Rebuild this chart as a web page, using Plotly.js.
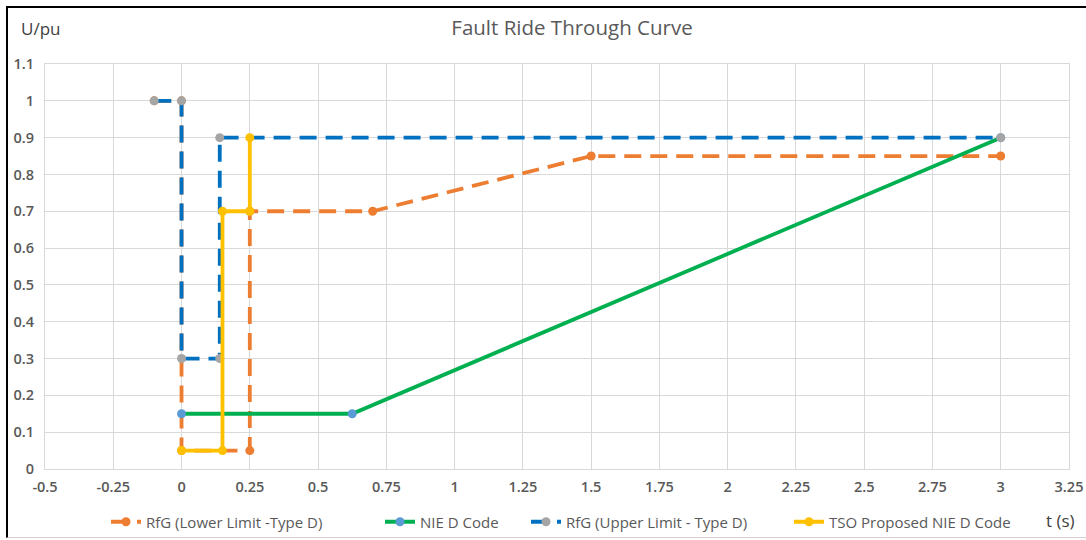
<!DOCTYPE html>
<html>
<head>
<meta charset="utf-8">
<script src="https://cdn.plot.ly/plotly-3.0.1.min.js"></script>
<style>
  html, body { margin: 0; padding: 0; background: #ffffff; }
  #wrap { position: relative; width: 1086px; height: 540px; overflow: hidden; }
  #chart { position: absolute; left: 0; top: 0; width: 1086px; height: 540px; }
  #frame { position: absolute; left: 6px; top: 6px; width: 1090px; height: 532px;
           border-top: 2px solid #000; border-left: 2px solid #000; border-bottom: 1px solid #d0d0d0;
           pointer-events: none; box-sizing: border-box; }
</style>
</head>
<body>
<div id="wrap">
  <div id="chart"></div>
  <div id="frame"></div>
</div>
<script>
// ---- data ----
const lowerX = [-0.1, 0, 0, 0.25, 0.25, 0.7, 1.5, 3];
const lowerY = [1, 1, 0.05, 0.05, 0.7, 0.7, 0.85, 0.85];

const nieX = [0, 0.625, 3];
const nieY = [0.15, 0.15, 0.9];

const upperX = [-0.1, 0, 0, 0.14, 0.14, 3];
const upperY = [1, 1, 0.3, 0.3, 0.9, 0.9];

const tsoX = [0, 0.15, 0.15, 0.25, 0.25];
const tsoY = [0.05, 0.05, 0.7, 0.7, 0.9];

const seriesNames = ["RfG (Lower Limit -Type D)", "NIE D Code", "RfG (Upper Limit - Type D)", "TSO Proposed NIE D Code"];

const xTickVals = [-0.5, -0.25, 0, 0.25, 0.5, 0.75, 1, 1.25, 1.5, 1.75, 2, 2.25, 2.5, 2.75, 3, 3.25];
const xTickText = ["-0.5", "-0.25", "0", "0.25", "0.5", "0.75", "1", "1.25", "1.5", "1.75", "2", "2.25", "2.5", "2.75", "3", "3.25"];
const yTickVals = [0, 0.1, 0.2, 0.3, 0.4, 0.5, 0.6, 0.7, 0.8, 0.9, 1, 1.1];
const yTickText = ["0", "0.1", "0.2", "0.3", "0.4", "0.5", "0.6", "0.7", "0.8", "0.9", "1", "1.1"];

const chartTitle = "Fault Ride Through Curve";
const yLabel = "U/pu";
const xLabel = "t (s)";

// ---- geometry helpers (plot area in pixels) ----
const PL = 45, PR = 1069, PT = 64, PB = 469;
const px2x = p => (p - PL) / (PR - PL);
const px2y = p => (PB - p) / (PB - PT);

// ---- traces ----
const FONT = "'Open Sans', 'DejaVu Sans', sans-serif";
const DASH = "17px,9px";
const traces = [
  {
    x: lowerX, y: lowerY, name: seriesNames[0], type: "scatter", mode: "lines+markers",
    line: { color: "#ED7D31", width: 3.8, dash: DASH },
    marker: { color: "#ED7D31", size: 9 }, legend: "legend"
  },
  {
    x: nieX, y: nieY, name: seriesNames[1], type: "scatter", mode: "lines+markers",
    line: { color: "#00B050", width: 3.8 },
    marker: { color: "#5B9BD5", size: 9 }, legend: "legend2"
  },
  {
    x: upperX, y: upperY, name: seriesNames[2], type: "scatter", mode: "lines+markers",
    line: { color: "#0070C0", width: 3.8, dash: DASH },
    marker: { color: "#A5A5A5", size: 9 }, legend: "legend3"
  },
  {
    x: tsoX, y: tsoY, name: seriesNames[3], type: "scatter", mode: "lines+markers",
    line: { color: "#FFC000", width: 3.8 },
    marker: { color: "#FFC000", size: 9 }, legend: "legend4"
  }
];

const legendFont = { family: FONT, size: 15, color: "#595959" };
function mkLegend(leftPx) {
  return {
    orientation: "h", x: px2x(leftPx), xanchor: "left", y: px2y(522), yanchor: "middle",
    font: legendFont, bgcolor: "rgba(0,0,0,0)", borderwidth: 0
  };
}

const tickFont = { family: FONT, size: 14.5, color: "#595959", weight: 600 };

const layout = {
  width: 1086, height: 540,
  margin: { l: PL, r: 1086 - PR, t: PT, b: 540 - PB, autoexpand: false },
  paper_bgcolor: "#ffffff", plot_bgcolor: "#ffffff",
  font: { family: FONT, color: "#595959", size: 13 },
  title: {
    text: chartTitle, font: { family: FONT, size: 20.5, color: "#595959" },
    xref: "container", yref: "container", x: 572 / 1086, xanchor: "center",
    y: 1 - 28 / 540, yanchor: "middle"
  },
  showlegend: true,
  legend: mkLegend(106),
  legend2: mkLegend(380),
  legend3: mkLegend(526),
  legend4: mkLegend(789),
  xaxis: {
    range: [-0.5, 3.25], tickvals: xTickVals, ticktext: xTickText,
    showgrid: true, gridcolor: "#D9D9D9", gridwidth: 1, zeroline: false,
    showline: true, linecolor: "#D9D9D9", linewidth: 1, mirror: true,
    ticks: "", tickfont: tickFont, ticklabelstandoff: 5
  },
  yaxis: {
    range: [0, 1.1], tickvals: yTickVals, ticktext: yTickText,
    showgrid: true, gridcolor: "#D9D9D9", gridwidth: 1, zeroline: false,
    showline: true, linecolor: "#D9D9D9", linewidth: 1, mirror: true,
    ticks: "", tickfont: tickFont, ticklabelstandoff: 7
  },
  annotations: [
    {
      text: yLabel, xref: "paper", yref: "paper", x: px2x(40), y: px2y(28),
      xanchor: "center", yanchor: "middle", showarrow: false,
      font: { family: FONT, size: 17, color: "#404040" }
    },
    {
      text: xLabel, xref: "paper", yref: "paper", x: px2x(1060), y: px2y(520),
      xanchor: "center", yanchor: "middle", showarrow: false,
      font: { family: FONT, size: 17, color: "#404040" }
    }
  ]
};

Plotly.newPlot("chart", traces, layout, { displayModeBar: false, staticPlot: true });
</script>
</body>
</html>
